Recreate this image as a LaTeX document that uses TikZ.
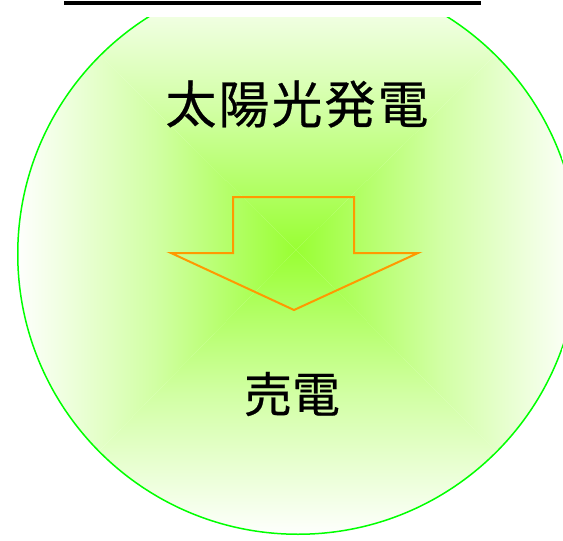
\documentclass[tikz,border=0pt]{standalone}
\usepackage{fontspec}
\newfontfamily\jpfont[FakeBold=0.5]{Noto Sans CJK JP}
\definecolor{sunGreen}{HTML}{99FF33}
\definecolor{ringGreen}{HTML}{00FF00}
\definecolor{arrOrange}{HTML}{FF9900}
\tikzset{%
    rng/.style={draw=ringGreen, line width=3pt},
    arr/.style={draw=arrOrange, line width=2pt, line join=miter},
    lbl/.style={font=\jpfont\fontsize{48}{48}\selectfont, inner sep=0pt},
    fadeMid/.style={middle color=sunGreen!45!white}
}
\begin{document}
\begin{tikzpicture}[x=1pt,y=-1pt]
    \useasboundingbox (0,0) rectangle (563,541);
    \coordinate (C) at (298,254);
    \coordinate (G) at (296,250);
    \draw [line width=4pt] (64,3) -- (481,3);
    \begin{scope}
        \clip (0,17) rectangle (563,541);
        \clip (C) circle (281pt);
        % rectangle gradient, one triangle per side
        \shade [top color=white, bottom color=sunGreen, fadeMid] (15,-29) -- (581,-29) -- (G) -- cycle;
        \shade [top color=sunGreen, bottom color=white, fadeMid] (15,537) -- (581,537) -- (G) -- cycle;
        \shade [left color=white, right color=sunGreen, fadeMid] (15,-29) -- (15,537) -- (G) -- cycle;
        \shade [left color=sunGreen, right color=white, fadeMid] (581,-29) -- (581,537) -- (G) -- cycle;
        \draw [rng] (C) circle (281pt);
    \end{scope}
    \draw [arr] (233,197) -- (354,197) -- (354,253) -- (418,253) -- (294,310) -- (171,253) -- (233,253) -- cycle;
    \node [lbl, font=\jpfont\fontsize{51}{51}\selectfont\addfontfeature{LetterSpace=4}] (title) at (297,104) {太陽光発電};
    \node [lbl] (sale) at (292,394) {売電};
\end{tikzpicture}
\end{document}
